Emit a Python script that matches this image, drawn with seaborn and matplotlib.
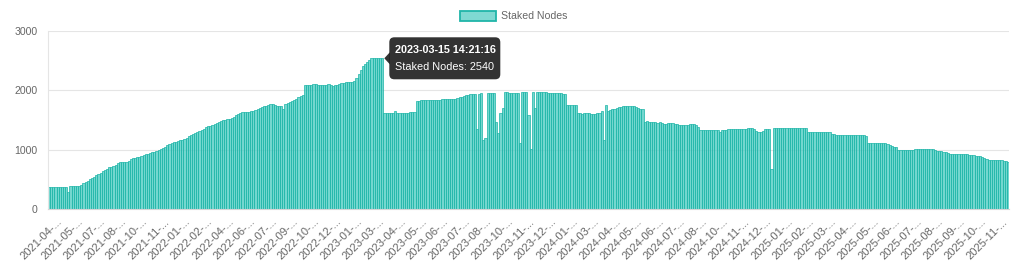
import matplotlib
matplotlib.use("Agg")
import matplotlib.pyplot as plt
import matplotlib.transforms as mtransforms
from matplotlib.patches import FancyBboxPatch, Polygon, Patch
import pandas as pd
import seaborn as sns

# ---------------- data ----------------
series_name = "Staked Nodes"
staked_nodes = [
    376, 378, 378, 377, 378, 378, 377, 378, 379, 292,
    382, 383, 383, 384, 385, 398, 430, 458, 480, 503,
    525, 545, 568, 590, 612, 633, 656, 678, 700, 712,
    728, 745, 770, 788, 797, 790, 789, 806, 835, 856,
    862, 874, 884, 895, 910, 921, 930, 940, 955, 962,
    975, 992, 1008, 1030, 1050, 1075, 1093, 1108, 1122, 1137,
    1152, 1162, 1170, 1183, 1200, 1224, 1245, 1268, 1288, 1305,
    1318, 1333, 1355, 1374, 1392, 1405, 1417, 1428, 1442, 1460,
    1480, 1493, 1505, 1512, 1520, 1535, 1555, 1578, 1598, 1615,
    1628, 1638, 1640, 1635, 1645, 1654, 1662, 1680, 1700, 1717,
    1728, 1738, 1750, 1762, 1775, 1745, 1732, 1736, 1740, 1690,
    1765, 1790, 1805, 1820, 1840, 1858, 1882, 1900, 1915, 2085,
    2090, 2095, 2088, 2112, 2100, 2095, 2088, 2085, 2082, 2090,
    2100, 2085, 2078, 2082, 2090, 2102, 2118, 2130, 2145, 2146,
    2146, 2148, 2150, 2200, 2280, 2345, 2410, 2450, 2480, 2515,
    2540, 2545, 2545, 2542, 2540, 2540, 1615, 1610, 1612, 1612,
    1615, 1655, 1618, 1620, 1622, 1620, 1624, 1625, 1628, 1630,
    1632, 1820, 1828, 1830, 1832, 1830, 1833, 1835, 1832, 1834,
    1836, 1838, 1843, 1848, 1846, 1850, 1852, 1856, 1858, 1862,
    1870, 1880, 1895, 1905, 1915, 1925, 1935, 1940, 1945, 1356,
    1933, 1950, 1160, 1190, 1955, 1958, 1955, 1957, 1470, 1280,
    1618, 1708, 1972, 1972, 1955, 1956, 1958, 1955, 1957, 1120,
    1978, 1976, 1978, 1584, 1011, 1975, 1700, 1970, 1972, 1968,
    1966, 1965, 1962, 1960, 1962, 1958, 1955, 1952, 1950, 1945,
    1940, 1745, 1748, 1750, 1752, 1750, 1612, 1610, 1608, 1610,
    1612, 1610, 1608, 1606, 1608, 1610, 1612, 1650, 1165, 1755,
    1660, 1670, 1680, 1690, 1700, 1712, 1722, 1730, 1735, 1738,
    1740, 1738, 1730, 1715, 1700, 1690, 1680, 1470, 1475, 1468,
    1472, 1470, 1465, 1455, 1458, 1450, 1440, 1438, 1445, 1455,
    1450, 1440, 1433, 1420, 1418, 1415, 1412, 1415, 1435, 1440,
    1430, 1410, 1380, 1330, 1328, 1332, 1330, 1335, 1332, 1330,
    1328, 1330, 1305, 1325, 1330, 1338, 1340, 1342, 1345, 1345,
    1348, 1350, 1352, 1350, 1355, 1358, 1360, 1358, 1355, 1320,
    1305, 1305, 1320, 1343, 1345, 1348, 674, 1360, 1362, 1360,
    1362, 1365, 1362, 1360, 1362, 1365, 1362, 1360, 1358, 1360,
    1362, 1360, 1358, 1292, 1290, 1292, 1294, 1292, 1290, 1295,
    1298, 1295, 1292, 1290, 1262, 1258, 1255, 1250, 1252, 1250,
    1248, 1250, 1247, 1245, 1248, 1246, 1245, 1244, 1242, 1240,
    1238, 1120, 1118, 1118, 1116, 1118, 1115, 1112, 1110, 1108,
    1100, 1080, 1060, 1050, 1040, 1000, 995, 994, 996, 995,
    994, 995, 1000, 1008, 1012, 1010, 1011, 1012, 1010, 1008,
    1006, 1004, 1000, 985, 975, 970, 962, 955, 945, 928,
    925, 922, 920, 925, 928, 925, 922, 920, 918, 915,
    905, 900, 895, 888, 880, 860, 845, 830, 825, 822,
    820, 822, 820, 818, 815, 812, 795,
]
tick_months = [
    "2021-04", "2021-05", "2021-07", "2021-08", "2021-10", "2021-11",
    "2022-01", "2022-02", "2022-04", "2022-06", "2022-07", "2022-09",
    "2022-10", "2022-12", "2023-01", "2023-03", "2023-04", "2023-05",
    "2023-06", "2023-07", "2023-08", "2023-10", "2023-11", "2023-12",
    "2024-01", "2024-03", "2024-04", "2024-05", "2024-06", "2024-07",
    "2024-08", "2024-10", "2024-11", "2024-12", "2025-01", "2025-02",
    "2025-03", "2025-04", "2025-05", "2025-06", "2025-07", "2025-08",
    "2025-09", "2025-10", "2025-11",
]
tick_labels = [m + "-..." for m in tick_months]
first_tick_index = 5
tick_step = 10
tooltip_index = 155
tooltip_time = "2023-03-15 14:21:16"
y_ticks = [0, 1000, 2000, 3000]

# ---------------- style ----------------
sns.set_theme(style="white")
plt.rcParams["font.family"] = ["Liberation Sans", "DejaVu Sans"]
TXT = "#666666"
GRID = "#e5e5e5"
BAR_FACE = (0.30, 0.80, 0.76, 0.78)
BAR_EDGE = "#1ab3a6"

df = pd.DataFrame({"idx": list(range(len(staked_nodes))), "value": staked_nodes})

W, H = 1024, 266
fig = plt.figure(figsize=(W / 100, H / 100), dpi=100)
ax = fig.add_axes([48 / W, 1 - 209 / H, 961 / W, 178 / H])

sns.barplot(data=df, x="idx", y="value", width=1.0, color=BAR_FACE[:3],
            saturation=1, edgecolor=BAR_EDGE, linewidth=0.5, ax=ax,
            errorbar=None)
for p in ax.patches:
    p.set_facecolor(BAR_FACE)

n = len(staked_nodes)
ax.set_xlim(-0.5, n - 0.5)
ax.set_ylim(0, 3000)
ax.set_yticks(y_ticks)
ax.set_yticklabels([str(v) for v in y_ticks])
ax.set_xticks([first_tick_index + tick_step * j for j in range(len(tick_labels))])
ax.set_xticklabels(tick_labels, rotation=45, ha="right", va="center",
                   rotation_mode="anchor")
ax.set_xlabel("")
ax.set_ylabel("")

ax.set_axisbelow(True)
ax.yaxis.grid(True, color=GRID, linewidth=0.8)
ax.xaxis.grid(False)
for s in ("top", "right"):
    ax.spines[s].set_visible(False)
ax.spines["left"].set_color(GRID)
ax.spines["bottom"].set_color("#d6d6d6")
ax.spines["left"].set_linewidth(0.8)
ax.spines["bottom"].set_linewidth(0.8)

ax.tick_params(axis="y", length=6, width=0.8, color=GRID, pad=1.5,
               labelsize=7.6, labelcolor=TXT)
ax.tick_params(axis="x", length=4, width=0.8, color=GRID, pad=4,
               labelsize=8, labelcolor=TXT)

# legend
handle = Patch(facecolor="#7fd9d2", edgecolor="#20b5a9", linewidth=1.3,
               label=series_name)
fig.legend(handles=[handle], loc="center", bbox_to_anchor=(514 / W, 1 - 16 / H),
           frameon=False, fontsize=7.6, handlelength=3.4, handleheight=1.1,
           handletextpad=0.5, labelcolor=TXT)

# tooltip
tv = staked_nodes[tooltip_index]
trans = mtransforms.Affine2D() + mtransforms.ScaledTranslation(
    tooltip_index, tv, ax.transData)
box = FancyBboxPatch((7, -21), 111, 42, boxstyle="round,pad=0,rounding_size=5",
                     facecolor=(0, 0, 0, 0.8), edgecolor="none",
                     transform=trans, clip_on=False, zorder=10)
caret = Polygon([(2, 0), (7.5, 6), (7.5, -6)], closed=True,
                facecolor=(0, 0, 0, 0.8), edgecolor="none",
                transform=trans, clip_on=False, zorder=10)
ax.add_artist(box)
ax.add_artist(caret)
ax.text(13, 8.7, tooltip_time, transform=trans, color="white",
        fontweight="bold", fontsize=7.8, va="center", ha="left", zorder=11)
ax.text(13, -8.7, f"{series_name}: {tv}", transform=trans, color="white",
        fontsize=7.8, va="center", ha="left", zorder=11)

fig.savefig("out.png", dpi=100)
